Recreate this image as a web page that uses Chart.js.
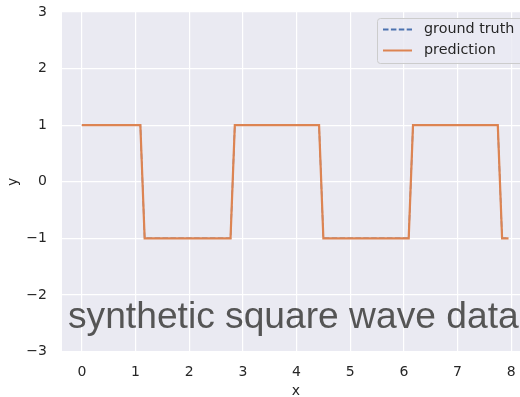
<!DOCTYPE html>
<html>
<head>
<meta charset="utf-8">
<script src="https://cdn.jsdelivr.net/npm/chart.js@4/dist/chart.umd.min.js"></script>
<style>
  html, body { margin: 0; padding: 0; background: #ffffff; overflow: hidden; }
  #wrap { width: 540px; height: 397px; }
</style>
</head>
<body>
<div id="wrap"><canvas id="c" width="540" height="397"></canvas></div>
<script>
// Square wave: corner points of each level (x, y)
const xValues = [0, 1.09, 1.17, 2.77, 2.85, 4.42, 4.50, 6.09, 6.17, 7.75, 7.83, 7.95];
const groundTruth = [1, 1, -1, -1, 1, 1, -1, -1, 1, 1, -1, -1];
const prediction = [1, 1, -1, -1, 1, 1, -1, -1, 1, 1, -1, -1];
const xTicks = [0, 1, 2, 3, 4, 5, 6, 7, 8];
const yTicks = [-3, -2, -1, 0, 1, 2, 3];
const seriesNames = ['ground truth', 'prediction'];
const captionText = 'synthetic square wave data';

const BLUE = '#4c72b0';
const ORANGE = '#dd8452';
const TEXT = '#262626';
const TICK_FONT = { family: 'DejaVu Sans', size: 14 };

const toPoints = ys => xValues.map((x, i) => ({ x, y: ys[i] }));

const plotBackground = {
  id: 'plotBackground',
  beforeDraw(chart) {
    const { ctx, chartArea: a } = chart;
    ctx.save();
    ctx.fillStyle = '#eaeaf2';
    ctx.fillRect(a.left, a.top, a.right - a.left, a.bottom - a.top);
    ctx.restore();
  }
};

const overlay = {
  id: 'overlay',
  afterDraw(chart) {
    const ctx = chart.ctx;
    ctx.save();
    // caption across the lower part of the axes
    ctx.font = '37.2px "Liberation Sans", Arial, sans-serif';
    ctx.fillStyle = '#555555';
    ctx.textBaseline = 'alphabetic';
    ctx.textAlign = 'left';
    ctx.fillText(captionText, 68, 327.5);

    // legend frame
    const bx = 377.5, by = 18.5, bw = 160, bh = 45, r = 3;
    ctx.beginPath();
    ctx.moveTo(bx + r, by);
    ctx.lineTo(bx + bw - r, by);
    ctx.arcTo(bx + bw, by, bx + bw, by + r, r);
    ctx.lineTo(bx + bw, by + bh - r);
    ctx.arcTo(bx + bw, by + bh, bx + bw - r, by + bh, r);
    ctx.lineTo(bx + r, by + bh);
    ctx.arcTo(bx, by + bh, bx, by + bh - r, r);
    ctx.lineTo(bx, by + r);
    ctx.arcTo(bx, by, bx + r, by, r);
    ctx.closePath();
    ctx.fillStyle = 'rgba(234,234,242,0.8)';
    ctx.fill();
    ctx.strokeStyle = '#cccccc';
    ctx.lineWidth = 1;
    ctx.stroke();

    const rows = [
      { y: 29.5, color: BLUE, dash: [5.5, 2.4] },
      { y: 50.5, color: ORANGE, dash: [] }
    ];
    rows.forEach((row, i) => {
      ctx.beginPath();
      ctx.setLineDash(row.dash);
      ctx.strokeStyle = row.color;
      ctx.lineWidth = 2;
      ctx.moveTo(383, row.y);
      ctx.lineTo(412, row.y);
      ctx.stroke();
      ctx.setLineDash([]);
      ctx.font = '14.3px "DejaVu Sans"';
      ctx.fillStyle = TEXT;
      ctx.textBaseline = 'middle';
      ctx.fillText(seriesNames[i], 424, row.y);
    });
    ctx.restore();
  }
};

new Chart(document.getElementById('c'), {
  type: 'line',
  data: {
    datasets: [
      {
        label: seriesNames[0],
        data: toPoints(groundTruth),
        borderColor: BLUE,
        borderWidth: 1.5,
        borderDash: [5.5, 2.4],
        pointRadius: 0,
        fill: false,
        tension: 0,
        order: 2
      },
      {
        label: seriesNames[1],
        data: toPoints(prediction),
        borderColor: ORANGE,
        borderWidth: 2.2,
        pointRadius: 0,
        fill: false,
        tension: 0,
        order: 1
      }
    ]
  },
  options: {
    responsive: false,
    animation: false,
    devicePixelRatio: 1,
    layout: { padding: { left: 0, top: 12, right: 10, bottom: 0 } },
    plugins: { legend: { display: false }, tooltip: { enabled: false } },
    scales: {
      x: {
        type: 'linear',
        min: -0.37,
        max: 8.35,
        afterBuildTicks: s => { s.ticks = xTicks.map(v => ({ value: v })); },
        afterFit: s => { s.height = 45.5; s.paddingLeft = 0; s.paddingRight = 0; },
        grid: { color: '#ffffff', lineWidth: 1.2, drawTicks: false },
        border: { display: false },
        ticks: { color: TEXT, font: TICK_FONT, padding: 12, callback: v => String(v).replace('-', '\u2212') },
        title: { display: true, text: 'x', color: TEXT, font: { family: 'DejaVu Sans', size: 14, lineHeight: 0.85 }, padding: { top: 12, bottom: 0 } }
      },
      y: {
        type: 'linear',
        min: -3,
        max: 3,
        afterBuildTicks: s => { s.ticks = yTicks.map(v => ({ value: v })); },
        afterFit: s => { s.width = 62; s.paddingTop = 0; s.paddingBottom = 0; },
        grid: { color: '#ffffff', lineWidth: 1.2, drawTicks: false },
        border: { display: false },
        ticks: { color: TEXT, font: TICK_FONT, padding: 15, callback: v => String(v).replace('-', '\u2212') },
        title: { display: true, text: 'y', color: TEXT, font: TICK_FONT, padding: { top: 5, bottom: 4 } }
      }
    }
  },
  plugins: [plotBackground, overlay]
});
</script>
</body>
</html>
